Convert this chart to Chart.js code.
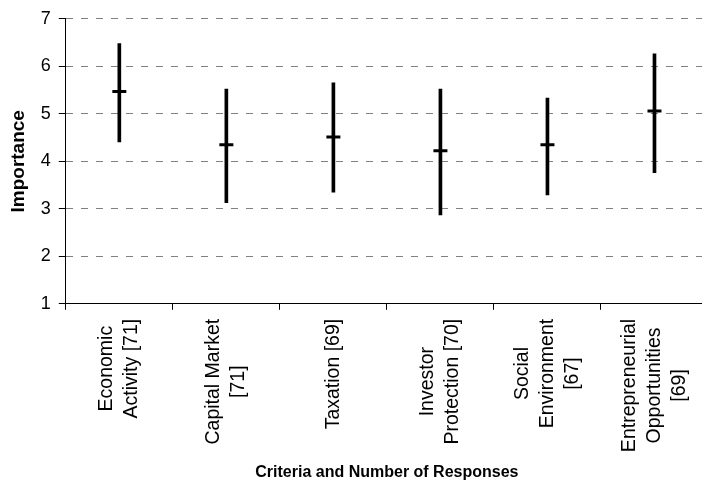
<!DOCTYPE html>
<html>
<head>
<meta charset="utf-8">
<script src="https://cdn.jsdelivr.net/npm/chart.js@4"></script>
<style>
  html, body { margin: 0; padding: 0; overflow: hidden; background: #fff; }
  #wrap { width: 702px; height: 495px; overflow: hidden; position: relative; }
  canvas { display: block; }
</style>
</head>
<body>
<div id="wrap"><canvas id="chartImportance" width="710" height="495"></canvas></div>
<script>
// kategori (baris label) dan nilai yang dibaca dari gambar
const categories = [
  ['Economic', 'Activity [71]'],
  ['Capital Market', '[71]'],
  ['Taxation [69]'],
  ['Investor', 'Protection [70]'],
  ['Social', 'Environment', '[67]'],
  ['Entrepreneurial', 'Opportunities', '[69]']
];
const lowValues = [4.41, 3.13, 3.35, 2.87, 3.29, 3.76];
const highValues = [6.48, 5.52, 5.65, 5.52, 5.33, 6.26];
const meanValues = [5.47, 4.35, 4.51, 4.22, 4.35, 5.06];
const yMin = 1;
const yMax = 7;

const fontFamily = "'Liberation Sans', Arial, sans-serif";
Chart.defaults.font.family = fontFamily;
Chart.defaults.color = '#000';

// label kategori diputar, baris-barisnya rata tengah
const rotatedLabels = {
  id: 'rotatedLabels',
  afterDraw(chart) {
    const ctx = chart.ctx;
    const xScale = chart.scales.x;
    const top = chart.chartArea.bottom + 15;
    ctx.save();
    ctx.font = '19.5px ' + fontFamily;
    ctx.fillStyle = '#000';
    ctx.textAlign = 'center';
    ctx.textBaseline = 'middle';
    categories.forEach((lines, i) => {
      const longest = Math.max(...lines.map(l => ctx.measureText(l).width));
      ctx.save();
      ctx.translate(xScale.getPixelForValue(i), top + longest / 2);
      ctx.rotate(-Math.PI / 2);
      lines.forEach((l, j) => {
        ctx.fillText(l, 0, (j - (lines.length - 1) / 2) * 25);
      });
      ctx.restore();
    });
    ctx.restore();
  }
};

const ctx = document.getElementById('chartImportance').getContext('2d');
new Chart(ctx, {
  type: 'bar',
  data: {
    labels: categories.map(l => l.join(' ')),
    datasets: [{
      type: 'line',
      label: 'Mean',
      data: meanValues,
      showLine: false,
      pointStyle: 'line',
      pointRadius: 7,
      pointHoverRadius: 7,
      pointBorderWidth: 3,
      pointBorderColor: '#000',
      borderColor: '#000',
      order: 0
    }, {
      label: 'Range',
      data: lowValues.map((v, i) => [v, highValues[i]]),
      backgroundColor: '#000',
      borderWidth: 0,
      barThickness: 3,
      order: 1
    }]
  },
  options: {
    responsive: false,
    animation: false,
    layout: { autoPadding: false, padding: { top: 14, right: 2, bottom: 9, left: 0 } },
    plugins: {
      legend: { display: false },
      tooltip: { enabled: false }
    },
    scales: {
      x: {
        offset: true,
        grid: { drawOnChartArea: false, offset: true, tickLength: 6, color: '#000' },
        border: { color: '#000', width: 1 },
        ticks: { display: false },
        title: {
          display: true,
          text: 'Criteria and Number of Responses',
          color: '#000',
          font: { size: 16, weight: 'bold' },
          padding: { top: 153, bottom: 4 }
        }
      },
      y: {
        min: yMin,
        max: yMax,
        ticks: { stepSize: 1, font: { size: 18 }, color: '#000', padding: 8 },
        grid: { color: '#808080', tickColor: '#000', tickLength: 7, tickBorderDash: [] },
        border: { dash: [7, 8], color: '#000', width: 1 },
        title: {
          display: true,
          text: 'Importance',
          color: '#000',
          font: { size: 19, weight: 'bold' },
          padding: { top: 7, bottom: 3 }
        }
      }
    }
  },
  plugins: [rotatedLabels]
});
</script>
</body>
</html>
